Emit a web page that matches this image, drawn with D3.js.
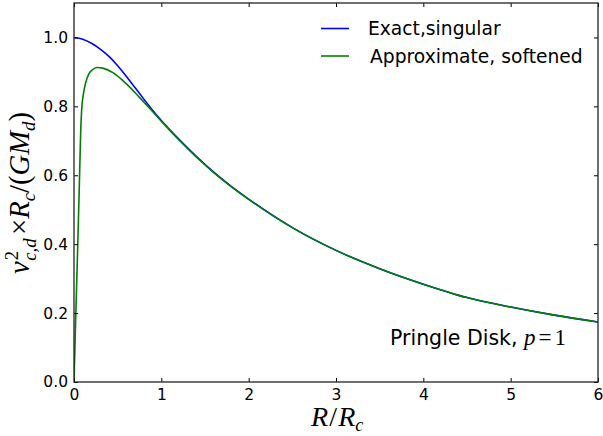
<!DOCTYPE html>
<html><head><meta charset="utf-8">
<script src="https://cdn.jsdelivr.net/npm/d3@7"></script>
<style>body{margin:0;background:#fff}svg{display:block}</style>
</head><body>
<svg id="c" width="603" height="436"></svg>
<script>
// ---- data ----
const xTicks = [0, 1, 2, 3, 4, 5, 6];
const yTicks = [0.0, 0.2, 0.4, 0.6, 0.8, 1.0];
const seriesNames = ["Exact,singular", "Approximate, softened"];
const seriesColors = ["#0000ff", "#008000"];

const exactR = [0, 0.1, 0.2, 0.3, 0.4, 0.5, 0.6, 0.7, 0.8, 0.9, 1.0, 1.2, 1.4, 1.6, 1.8, 2.0, 2.5, 3.0, 3.5, 4.0, 4.5, 5.0, 5.5, 6.0];
const exactV = [1.000, 0.995, 0.983, 0.966, 0.945, 0.918, 0.887, 0.854, 0.821, 0.789, 0.759, 0.705, 0.655, 0.609, 0.568, 0.531, 0.448, 0.382, 0.329, 0.284, 0.245, 0.2175, 0.194, 0.174];

const softR = [0, 0.02, 0.04, 0.06, 0.077, 0.092, 0.103, 0.13, 0.17, 0.21, 0.26, 0.33, 0.45, 0.55, 0.65, 0.75, 0.9, 1.0, 1.2, 1.4, 1.6, 1.8, 2.0, 2.5, 3.0, 3.5, 4.0, 4.5, 5.0, 5.5, 6.0];
const softV = [0.000, 0.190, 0.370, 0.560, 0.730, 0.805, 0.828, 0.865, 0.894, 0.906, 0.913, 0.911, 0.897, 0.877, 0.853, 0.826, 0.785, 0.757, 0.703, 0.653, 0.608, 0.567, 0.530, 0.448, 0.382, 0.329, 0.284, 0.245, 0.2175, 0.194, 0.174];

// ---- layout ----
const W = 603, H = 436;
const m = {left: 74, right: 5, top: 3, bottom: 54};
const svg = d3.select("#c");
const x = d3.scaleLinear().domain([0, 6]).range([m.left, W - m.right]);
const y = d3.scaleLinear().domain([0, 1.1]).range([H - m.bottom, m.top]);

const line = d3.line().x(d => x(d[0])).y(d => y(d[1])).curve(d3.curveMonotoneX);
svg.append("clipPath").attr("id", "clip").append("rect")
  .attr("x", m.left).attr("y", m.top).attr("width", x(6) - m.left).attr("height", y(0) - m.top);

const series = [
  exactR.map((r, i) => [r, exactV[i]]),
  softR.map((r, i) => [r, softV[i]])
];
series.forEach((s, i) => {
  svg.append("path").datum(s).attr("d", line).attr("fill", "none")
    .attr("stroke", seriesColors[i]).attr("stroke-width", 1.6)
    .attr("clip-path", "url(#clip)");
});

// axes (ticks inward on all four sides)
const font = "'DejaVu Sans', sans-serif";
const tl = 4;
const gB = svg.append("g").attr("transform", `translate(0,${y(0)})`)
  .call(d3.axisBottom(x).tickValues(xTicks).tickSize(-tl).tickPadding(6).tickFormat(d3.format("d")));
const gT = svg.append("g").attr("transform", `translate(0,${y(1.1)})`)
  .call(d3.axisTop(x).tickValues(xTicks).tickSize(-tl).tickFormat(""));
const gL = svg.append("g").attr("transform", `translate(${x(0)},0)`)
  .call(d3.axisLeft(y).tickValues(yTicks).tickSize(-tl).tickPadding(6).tickFormat(d3.format(".1f")));
const gR = svg.append("g").attr("transform", `translate(${x(6)},0)`)
  .call(d3.axisRight(y).tickValues(yTicks).tickSize(-tl).tickFormat(""));
[gB, gT, gL, gR].forEach(g => {
  g.select(".domain").remove();
  g.selectAll(".tick line").attr("stroke", "#000").attr("stroke-width", 1);
  g.selectAll("text").attr("font-family", font).attr("font-size", 15.5).attr("fill", "#000");
});
gB.selectAll("text").attr("dy", "0.75em");
svg.append("rect").attr("x", x(0)).attr("y", y(1.1)).attr("width", x(6) - x(0)).attr("height", y(0) - y(1.1))
  .attr("fill", "none").attr("stroke", "#222").attr("stroke-width", 1.3);

// legend
const legY = [28.5, 56];
seriesNames.forEach((n, i) => {
  svg.append("line").attr("x1", 321).attr("x2", 349).attr("y1", legY[i]).attr("y2", legY[i])
    .attr("stroke", seriesColors[i]).attr("stroke-width", 1.6);
  svg.append("text").attr("x", i === 0 ? 368 : 370).attr("y", legY[i] + 6.5)
    .attr("font-family", font).attr("font-size", 18.7).text(n);
});

// annotation
const serif = "'Liberation Serif', 'Times New Roman', serif";
const ann = svg.append("text").attr("x", 390).attr("y", 345).attr("font-family", font).attr("font-size", 20.5);
ann.append("tspan").text("Pringle Disk, ");
ann.append("tspan").attr("font-family", serif).attr("font-style", "italic").attr("font-size", 23).text("p");
ann.append("tspan").attr("font-family", serif).attr("font-size", 23).attr("dx", 3).text("=");
ann.append("tspan").attr("font-family", serif).attr("font-size", 23).attr("dx", 3).text("1");

// axis labels, fitted to a target box
function place(g, box) {
  const r = g.node().getBoundingClientRect();
  const k = Math.min(box.w / r.width, box.h / r.height);
  g.attr("transform", `translate(${box.x},${box.y}) scale(${k}) translate(${-(r.left + r.width / 2)},${-(r.top + r.height / 2)})`);
}
const xlG = svg.append("g");
const xl = xlG.append("text")
  .attr("font-family", serif).attr("font-size", 26).attr("font-style", "italic");
xl.append("tspan").text("R");
xl.append("tspan").attr("font-style", "normal").attr("dx", 1).text("/");
xl.append("tspan").attr("dx", 1).text("R");
xl.append("tspan").attr("font-size", 17).attr("dy", 5).text("c");
place(xlG, {x: 337, y: 418, w: 54, h: 99});

const ylG = svg.append("g");
const ylR = ylG.append("g").attr("transform", "rotate(-90)");
const yl = ylR.append("text")
  .attr("font-family", serif).attr("font-size", 26).attr("font-style", "italic");
yl.append("tspan").text("v");
yl.append("tspan").attr("font-size", 17).attr("font-style", "normal").attr("dy", -10).attr("dx", 1).text("2");
yl.append("tspan").attr("font-size", 17).attr("dy", 16).attr("dx", -9).text("c,d");
yl.append("tspan").attr("font-style", "normal").attr("dy", -6).attr("dx", 3).text("×");
yl.append("tspan").text("R");
yl.append("tspan").attr("font-size", 17).attr("dy", 5).text("c");
yl.append("tspan").attr("font-style", "normal").attr("dy", -5).text("/(");
yl.append("tspan").text("GM");
yl.append("tspan").attr("font-size", 17).attr("dy", 5).text("d");
yl.append("tspan").attr("font-style", "normal").attr("dy", -5).text(")");
place(ylG, {x: 21, y: 193, w: 99, h: 162});
</script>
</body></html>
